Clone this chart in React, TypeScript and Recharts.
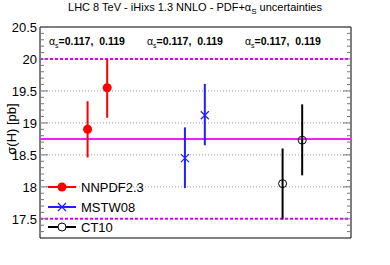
import React from "react";
import {
  ErrorBar,
  ReferenceArea,
  ReferenceLine,
  Scatter,
  ScatterChart,
  XAxis,
  YAxis,
} from "recharts";

// x positions of the points inside the panel (0..10), one per alpha_s value
const nnpdfX = [1.53, 2.16];
const mstwX = [4.66, 5.3];
const ct10X = [7.8, 8.43];

// sigma(H) central values and uncertainty bands [pb]
const nnpdfY = [18.9, 19.55];
const nnpdfLo = [18.46, 19.08];
const nnpdfHi = [19.34, 20.0];

const mstwY = [18.45, 19.12];
const mstwLo = [17.98, 18.65];
const mstwHi = [18.93, 19.61];

const ct10Y = [18.05, 18.73];
const ct10Lo = [17.49, 18.18];
const ct10Hi = [18.6, 19.29];

const alphaLabels = ["0.117,  0.119", "0.117,  0.119", "0.117,  0.119"];

const majorTicks = [17.5, 18, 18.5, 19, 19.5, 20, 20.5];
const minorTicks = [
  17.3, 17.4, 17.6, 17.7, 17.8, 17.9, 18.1, 18.2, 18.3, 18.4, 18.6, 18.7,
  18.8, 18.9, 19.1, 19.2, 19.3, 19.4, 19.6, 19.7, 19.8, 19.9, 20.1, 20.2,
  20.3, 20.4,
];
const gridValues = [18, 18.5, 19, 19.5];
const envelopeValues = [20, 17.5];
const centralValue = 18.75;

const Y_DOMAIN: [number, number] = [17.2, 20.5];
const PLOT_LEFT = 40;
const PLOT_RIGHT = 351;
const FONT = '"Liberation Sans", Arial, Helvetica, sans-serif';

const build = (xs: number[], ys: number[], lo: number[], hi: number[]) =>
  xs.map((x, i) => ({ x, y: ys[i], err: [ys[i] - lo[i], hi[i] - ys[i]] }));

const nnpdf = build(nnpdfX, nnpdfY, nnpdfLo, nnpdfHi);
const mstw = build(mstwX, mstwY, mstwLo, mstwHi);
const ct10 = build(ct10X, ct10Y, ct10Lo, ct10Hi);

const allTicks = [...majorTicks, ...minorTicks].sort((a, b) => a - b);

const isMajor = (v: number) => majorTicks.some((m) => Math.abs(m - v) < 1e-6);

const LeftTick = (props: any) => {
  const { y, payload } = props;
  const major = isMajor(payload.value);
  return (
    <g>
      <line x1={PLOT_LEFT} x2={PLOT_LEFT + (major ? 8 : 4)} y1={y} y2={y} stroke="#777" />
      {major && (
        <text
          x={PLOT_LEFT - 3}
          y={y + 5}
          textAnchor="end"
          fontSize={13}
          fontFamily={FONT}
          fill="#000"
        >
          {String(payload.value)}
        </text>
      )}
    </g>
  );
};

const RightTick = (props: any) => {
  const { y, payload } = props;
  const major = isMajor(payload.value);
  return (
    <line x1={PLOT_RIGHT - (major ? 8 : 4)} x2={PLOT_RIGHT} y1={y} y2={y} stroke="#777" />
  );
};

const RedDot = (p: any) => <circle cx={p.cx} cy={p.cy} r={4.5} fill="#ff0000" />;
const BlueCross = (p: any) => (
  <g stroke="#2020ff" strokeWidth={1.2}>
    <line x1={p.cx - 4} y1={p.cy - 4} x2={p.cx + 4} y2={p.cy + 4} />
    <line x1={p.cx - 4} y1={p.cy + 4} x2={p.cx + 4} y2={p.cy - 4} />
  </g>
);
const OpenCircle = (p: any) => (
  <circle cx={p.cx} cy={p.cy} r={4} fill="none" stroke="#000" strokeWidth={1} />
);

const legendItems = [
  { name: "NNPDF2.3", color: "#ff0000", marker: "dot" },
  { name: "MSTW08", color: "#2020ff", marker: "cross" },
  { name: "CT10", color: "#000000", marker: "open" },
];

function LegendIcon({ color, marker }: { color: string; marker: string }) {
  return (
    <svg width={28} height={12} style={{ display: "block" }}>
      <line x1={0} x2={28} y1={6} y2={6} stroke={color} strokeWidth={2} />
      {marker === "dot" && <circle cx={14} cy={6} r={4.5} fill={color} />}
      {marker === "cross" && (
        <g stroke={color} strokeWidth={1.2}>
          <line x1={10} y1={2} x2={18} y2={10} />
          <line x1={10} y1={10} x2={18} y2={2} />
        </g>
      )}
      {marker === "open" && (
        <circle cx={14} cy={6} r={4} fill="#fff" stroke={color} strokeWidth={1} />
      )}
    </svg>
  );
}

export default function App() {
  return (
    <div
      style={{
        position: "absolute",
        left: 0,
        top: 0,
        width: 390,
        height: 265,
        background: "#fff",
        fontFamily: FONT,
      }}
    >
      <ScatterChart width={390} height={265} margin={{ top: 27, right: 0, bottom: 27, left: 0 }}>
        <XAxis type="number" dataKey="x" domain={[0, 10]} hide />
        <YAxis
          yAxisId="l"
          type="number"
          dataKey="y"
          domain={Y_DOMAIN}
          ticks={allTicks}
          interval={0}
          width={40}
          axisLine={false}
          tickLine={false}
          tick={<LeftTick />}
          allowDataOverflow
        />
        <YAxis
          yAxisId="r"
          orientation="right"
          type="number"
          domain={Y_DOMAIN}
          ticks={allTicks}
          interval={0}
          width={39}
          axisLine={false}
          tickLine={false}
          tick={<RightTick />}
          allowDataOverflow
        />
        {gridValues.map((v) => (
          <ReferenceLine key={v} yAxisId="l" y={v} stroke="#999" strokeDasharray="1 2" />
        ))}
        <ReferenceLine yAxisId="l" y={centralValue} stroke="#ee22ee" strokeWidth={2} />
        {envelopeValues.map((v) => (
          <ReferenceLine
            key={v}
            yAxisId="l"
            y={v}
            stroke="#dd00ff"
            strokeWidth={2}
            strokeDasharray="3 2"
          />
        ))}
        <ReferenceArea
          yAxisId="l"
          x1={0}
          x2={10}
          y1={Y_DOMAIN[0]}
          y2={Y_DOMAIN[1]}
          fill="none"
          stroke="#000"
          strokeWidth={1}
        />
        <Scatter yAxisId="l" data={nnpdf} shape={<RedDot />} isAnimationActive={false}>
          <ErrorBar dataKey="err" direction="y" width={0} stroke="#ff0000" strokeWidth={2} />
        </Scatter>
        <Scatter yAxisId="l" data={mstw} shape={<BlueCross />} isAnimationActive={false}>
          <ErrorBar dataKey="err" direction="y" width={0} stroke="#2020ff" strokeWidth={2} />
        </Scatter>
        <Scatter yAxisId="l" data={ct10} shape={<OpenCircle />} isAnimationActive={false}>
          <ErrorBar dataKey="err" direction="y" width={0} stroke="#000" strokeWidth={2} />
        </Scatter>
      </ScatterChart>

      {/* title */}
      <div
        style={{
          position: "absolute",
          left: 0,
          width: 390,
          top: 1,
          textAlign: "center",
          fontSize: 11,
          color: "#000",
        }}
      >
        LHC 8 TeV - iHixs 1.3 NNLO - PDF+α<sub style={{ fontSize: 8 }}>S</sub> uncertainties
      </div>

      {/* y axis title */}
      <svg
        width={30}
        height={265}
        style={{ position: "absolute", left: 0, top: 0, pointerEvents: "none" }}
      >
        <text
          x={0}
          y={0}
          transform="translate(16 129) rotate(-90)"
          textAnchor="middle"
          fontSize={13}
          fontFamily={FONT}
          fill="#000"
        >
          σ(H) [pb]
        </text>
      </svg>

      {/* alpha_s annotations */}
      {alphaLabels.map((t, i) => (
        <div
          key={i}
          style={{
            position: "absolute",
            left: 49 + i * 98,
            top: 35,
            fontSize: 10.5,
            whiteSpace: "pre",
          }}
        >
          α<sub style={{ fontSize: 7 }}>s</sub>
          <b>={t}</b>
        </div>
      ))}

      {/* legend */}
      <div style={{ position: "absolute", left: 48, top: 177 }}>
        {legendItems.map((it) => (
          <div
            key={it.name}
            style={{ display: "flex", alignItems: "center", height: 20, fontSize: 13 }}
          >
            <LegendIcon color={it.color} marker={it.marker} />
            <span style={{ marginLeft: 5 }}>{it.name}</span>
          </div>
        ))}
      </div>
    </div>
  );
}
